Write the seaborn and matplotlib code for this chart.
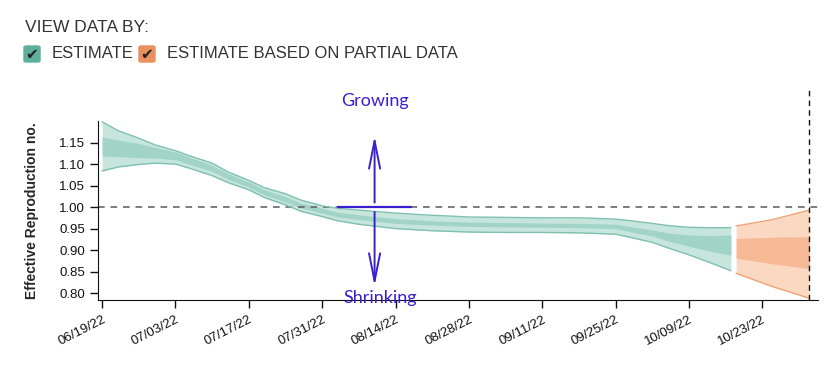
import pandas as pd
import seaborn as sns
import matplotlib.pyplot as plt
import matplotlib.dates as mdates
from matplotlib.patches import FancyBboxPatch

sns.set_style("ticks")
plt.rcParams['font.family'] = ['Liberation Sans', 'DejaVu Sans']

# estimate (teal) band
est_dates = ["2022-06-19", "2022-06-22", "2022-06-26", "2022-06-29", "2022-07-03", "2022-07-06",
             "2022-07-10", "2022-07-13", "2022-07-17", "2022-07-20", "2022-07-24", "2022-07-27",
             "2022-07-31", "2022-08-03", "2022-08-07", "2022-08-14", "2022-08-21", "2022-08-28",
             "2022-09-04", "2022-09-11", "2022-09-18", "2022-09-25", "2022-09-28", "2022-10-02",
             "2022-10-05", "2022-10-09", "2022-10-13", "2022-10-17"]
est_outer_hi = [1.198, 1.178, 1.160, 1.145, 1.131, 1.118, 1.102, 1.082, 1.062, 1.045, 1.031, 1.016,
                1.003, 0.997, 0.993, 0.986, 0.981, 0.977, 0.976, 0.975, 0.975, 0.972, 0.968, 0.962,
                0.957, 0.953, 0.952, 0.952]
est_outer_lo = [1.084, 1.093, 1.099, 1.102, 1.100, 1.089, 1.073, 1.057, 1.040, 1.022, 1.005, 0.990,
                0.978, 0.968, 0.960, 0.950, 0.945, 0.942, 0.941, 0.941, 0.940, 0.937, 0.929, 0.918,
                0.905, 0.889, 0.871, 0.852]
est_inner_hi = [1.163, 1.156, 1.148, 1.139, 1.128, 1.114, 1.097, 1.078, 1.058, 1.040, 1.024, 1.009,
                0.997, 0.988, 0.982, 0.973, 0.968, 0.965, 0.964, 0.963, 0.962, 0.960, 0.954, 0.947,
                0.940, 0.935, 0.934, 0.935]
est_inner_lo = [1.119, 1.117, 1.115, 1.114, 1.110, 1.098, 1.083, 1.065, 1.046, 1.028, 1.012, 0.998,
                0.986, 0.977, 0.971, 0.962, 0.958, 0.955, 0.954, 0.953, 0.952, 0.950, 0.942, 0.933,
                0.921, 0.909, 0.898, 0.888]

# estimate based on partial data (orange) band
part_dates = ["2022-10-18", "2022-10-25", "2022-11-01"]
part_outer_hi = [0.956, 0.971, 0.993]
part_outer_lo = [0.846, 0.815, 0.788]
part_inner_hi = [0.927, 0.930, 0.931]
part_inner_lo = [0.881, 0.868, 0.857]

tick_dates = pd.date_range("2022-06-19", "2022-10-23", freq="14D")

est = pd.DataFrame({"date": pd.to_datetime(est_dates), "ohi": est_outer_hi, "olo": est_outer_lo,
                    "ihi": est_inner_hi, "ilo": est_inner_lo})
part = pd.DataFrame({"date": pd.to_datetime(part_dates), "ohi": part_outer_hi, "olo": part_outer_lo,
                     "ihi": part_inner_hi, "ilo": part_inner_lo})

fig = plt.figure(figsize=(8.34, 3.69), dpi=100)
ax = fig.add_axes([0.1175, 0.187, 0.863, 0.485])

bands = [(est, "#c6e5dd", "#a2d3c7", "#7fc0b1"), (part, "#fbd8c2", "#f5b995", "#f0a273")]
for df, light, dark, edge in bands:
    ax.fill_between(df["date"], df["olo"], df["ohi"], color=light, lw=0)
    ax.fill_between(df["date"], df["ilo"], df["ihi"], color=dark, lw=0)
    sns.lineplot(data=df, x="date", y="ohi", color=edge, lw=1, ax=ax)
    sns.lineplot(data=df, x="date", y="olo", color=edge, lw=1, ax=ax)

ax.axhline(1.0, color="#666666", lw=1.2, ls=(0, (4, 3.5)), zorder=1)
ax.axvline(pd.Timestamp("2022-11-01"), ymin=0, ymax=1.18, color="#111111", lw=1,
           ls=(0, (4, 3)), clip_on=False)

ax.set_xlim(pd.Timestamp("2022-06-18 05:00"), pd.Timestamp("2022-11-02 14:00"))
ax.set_ylim(0.784, 1.2)
ax.set_yticks([0.80, 0.85, 0.90, 0.95, 1.00, 1.05, 1.10, 1.15])
ax.yaxis.set_major_formatter(plt.FormatStrFormatter("%.2f"))
ax.set_xticks(tick_dates)
ax.xaxis.set_major_formatter(mdates.DateFormatter("%m/%d/%y"))
plt.setp(ax.get_xticklabels(), rotation=27, ha="right", rotation_mode="anchor")
ax.tick_params(axis="both", labelsize=9.5, colors="#111111", length=6, width=1)
ax.tick_params(axis="x", pad=4)
ax.set_xlabel("")
ax.set_ylabel("Effective Reproduction no.", fontsize=10, fontweight="bold", labelpad=14)
sns.despine(ax=ax)
for s in ["left", "bottom"]:
    ax.spines[s].set_color("#111111")

# handwritten-style annotations
ink = "#3a1fcf"
mid = pd.Timestamp("2022-08-10")
head = "->,head_length=2.0,head_width=0.4"
ax.annotate("", xy=(mid, 1.172), xytext=(mid, 1.004),
            arrowprops=dict(arrowstyle=head, color=ink, lw=1.4))
ax.annotate("", xy=(mid, 0.81), xytext=(mid, 0.995),
            arrowprops=dict(arrowstyle=head, color=ink, lw=1.4))
ax.plot([pd.Timestamp("2022-08-03"), pd.Timestamp("2022-08-17")], [1.0, 1.0], color=ink, lw=1.6)
ax.text(mid, 1.246, "Growing", color=ink, fontsize=13, ha="center", va="center",
        family="Lato", clip_on=False)
ax.text(pd.Timestamp("2022-08-11"), 0.788, "Shrinking", color=ink, fontsize=13, ha="center",
        va="center", family="Lato", clip_on=False)

# legend header
fig.text(25 / 834, 1 - 28 / 369, "VIEW DATA BY:", fontsize=12.5, color="#333333", va="center")
for x0, col, label in [(24, "#5eae9e", "ESTIMATE"), (139, "#e8905e", "ESTIMATE BASED ON PARTIAL DATA")]:
    fig.patches.append(FancyBboxPatch((x0 / 834, 1 - 62 / 369), 16 / 834, 16 / 369,
                                      boxstyle="round,pad=0,rounding_size=0.003",
                                      transform=fig.transFigure, color=col))
    fig.text((x0 + 8) / 834, 1 - 54 / 369, "\u2714", fontsize=11, color="#222222",
             ha="center", va="center", family="DejaVu Sans")
    fig.text((x0 + 28) / 834, 1 - 54 / 369, label, fontsize=12, color="#333333", va="center")

fig.savefig("out.png", dpi=100)
